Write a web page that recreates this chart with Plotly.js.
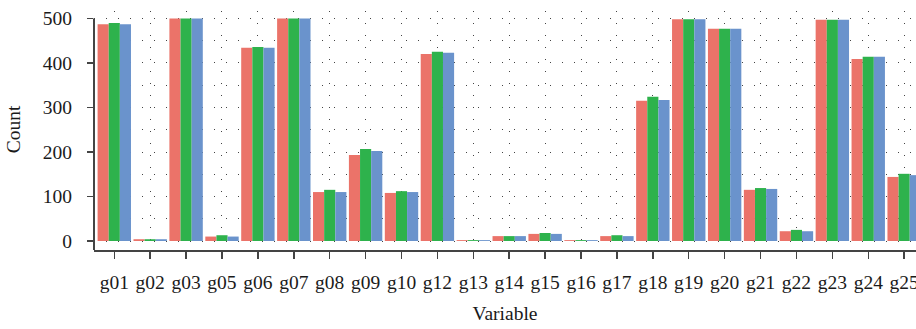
<!DOCTYPE html>
<html>
<head>
<meta charset="utf-8">
<script src="https://cdn.plot.ly/plotly-3.0.1.min.js"></script>
<style>html,body{margin:0;padding:0;background:#fff;}#chart{width:916px;height:329px;}</style>
</head>
<body>
<div id="chart"></div>
<script>
const categories = ["g01","g02","g03","g05","g06","g07","g08","g09","g10","g12","g13","g14","g15","g16","g17","g18","g19","g20","g21","g22","g23","g24","g25"];
const seriesA = [487, 4, 500, 10, 434, 500, 110, 193, 108, 420, 2, 11, 16, 2, 11, 315, 498, 477, 115, 22, 497, 409, 144];
const seriesB = [490, 4, 500, 13, 436, 500, 115, 207, 112, 425, 2, 11, 18, 2, 13, 324, 498, 477, 119, 25, 497, 414, 151];
const seriesC = [487, 4, 500, 10, 434, 500, 110, 202, 110, 423, 2, 11, 16, 2, 11, 317, 498, 477, 117, 22, 497, 414, 148];
const colors = ["#EB7369", "#2EB24C", "#6A93CC"];
const yTicks = [0, 100, 200, 300, 400, 500];

const font = {family: "Liberation Serif, Times New Roman, serif", size: 19.5, color: "#1a1a1a"};
const mk = (vals, c) => ({type: "bar", x: categories, y: vals, marker: {color: c, line: {width: 0}}, hoverinfo: "skip"});
const data = [mk(seriesA, colors[0]), mk(seriesB, colors[1]), mk(seriesC, colors[2])];

const layout = {
  width: 916, height: 329,
  margin: {l: 94, r: 0, t: 9, b: 79},
  paper_bgcolor: "#fff", plot_bgcolor: "#fff",
  font: font,
  showlegend: false,
  barmode: "group", bargap: 0.07, bargroupgap: 0,
  xaxis: {
    type: "category",
    range: [-0.565, 22.33],
    showgrid: true, gridcolor: "#444", gridwidth: 1, griddash: "0px,2px,1px,9px",
    showline: true, linecolor: "#444", linewidth: 2,
    ticks: "outside", ticklen: 7, tickwidth: 1.5, tickcolor: "#444",
    ticklabelstandoff: 7,
    tickfont: font,
    zeroline: false,
    title: {text: "Variable", font: font, standoff: 14},
    automargin: false
  },
  yaxis: {
    range: [-20.2, 521.3],
    tickvals: yTicks, ticktext: yTicks.map(String),
    showgrid: true, gridcolor: "#444", gridwidth: 1, griddash: "1px,11px",
    minor: {dtick: 50, tick0: 0, showgrid: true, gridcolor: "#444", gridwidth: 1, griddash: "1px,11px", ticks: ""},
    showline: false,
    ticks: "outside", ticklen: 6, tickwidth: 1.5, tickcolor: "#444",
    ticklabelstandoff: 11,
    tickfont: font,
    zeroline: false,
    title: {text: "Count", font: font, standoff: 17},
    automargin: false
  },
  shapes: [{type: "line", xref: "paper", yref: "y", x0: 0, x1: 0, y0: -20.2, y1: 500, line: {color: "#444", width: 2}}]
};
Plotly.newPlot("chart", data, layout, {displayModeBar: false, staticPlot: true});
</script>
</body>
</html>
